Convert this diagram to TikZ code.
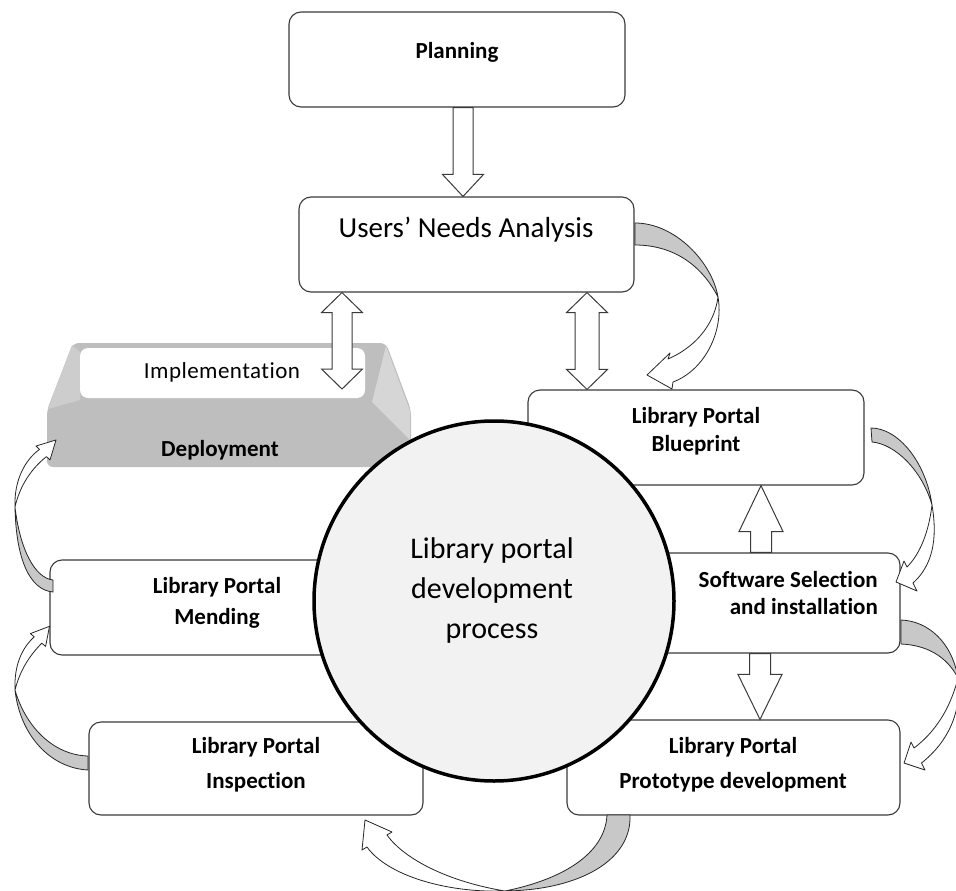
\documentclass[tikz,border=0pt]{standalone}
\usepackage{fontspec}
\setmainfont{Carlito}[Ligatures={NoCommon}]
\usetikzlibrary{calc}
\definecolor{linec}{HTML}{3A3A3A}
\definecolor{curvegray}{HTML}{C8C8C8}
\definecolor{circfill}{HTML}{F2F2F2}
\definecolor{depgray}{HTML}{BEBEBE}
\definecolor{deplight}{HTML}{CDCDCD}
\definecolor{depright}{HTML}{D6D6D6}
\begin{document}
\begin{tikzpicture}[x=1pt,y=-1pt,
  box/.style={draw=linec, line width=1.1pt, rounded corners=12pt, fill=white, inner sep=0pt},
  lbl/.style={font=\fontsize{23}{28}\bfseries\selectfont, align=center, inner sep=0pt},
  blk/.style={draw=linec, fill=white, line width=1pt, line join=miter},
  curv/.style={draw=black!85, line width=0.8pt, line join=round},
  bshaft/.store in=\bsw, bhead/.store in=\bhw, bhlen/.store in=\bhl, bx/.store in=\bx,
  bshaft=10pt, bhead=20.5pt, bhlen=22pt, bx=0pt,
  arrowdown/.style={to path={let \p1=(\tikztostart), \p2=(\tikztotarget) in
    (\bx-\bsw,\y1) -- (\bx-\bsw,\y2+\bhl) -- (\bx-\bhw,\y2+\bhl) -- (\bx,\y2)
    -- (\bx+\bhw,\y2+\bhl) -- (\bx+\bsw,\y2+\bhl) -- (\bx+\bsw,\y1) -- cycle}},
  arrowup/.style={to path={let \p1=(\tikztostart), \p2=(\tikztotarget) in
    (\bx-\bsw,\y1) -- (\bx-\bsw,\y2-\bhl) -- (\bx-\bhw,\y2-\bhl) -- (\bx,\y2)
    -- (\bx+\bhw,\y2-\bhl) -- (\bx+\bsw,\y2-\bhl) -- (\bx+\bsw,\y1) -- cycle}},
  arrowboth/.style={to path={let \p1=(\tikztostart), \p2=(\tikztotarget) in
    (\bx,\y1) -- (\bx-\bhw,\y1-\bhl) -- (\bx-\bsw,\y1-\bhl) -- (\bx-\bsw,\y2+\bhl)
    -- (\bx-\bhw,\y2+\bhl) -- (\bx,\y2) -- (\bx+\bhw,\y2+\bhl) -- (\bx+\bsw,\y2+\bhl)
    -- (\bx+\bsw,\y1-\bhl) -- (\bx+\bhw,\y1-\bhl) -- cycle}}
]
\useasboundingbox (0,0) rectangle (956,891);

% ---------- boxes ----------
\node[box, minimum width=336pt, minimum height=95pt] (plan) at (457,59.5) {};
\node[box, minimum width=335pt, minimum height=95pt] (users) at (466.5,244.5) {};
\node[box, minimum width=336pt, minimum height=95pt] (blue) at (696,437.5) {};
\node[box, minimum width=340pt, minimum height=100pt] (soft) at (730,603) {};
\node[box, minimum width=333pt, minimum height=95pt] (proto) at (733.5,767.5) {};
\node[box, minimum width=334pt, minimum height=93pt] (insp) at (256,768.5) {};
\node[box, minimum width=334pt, minimum height=95pt] (mend) at (217,607.5) {};

% ---------- deployment bevel ----------
\node[inner sep=0pt, minimum width=364pt, minimum height=124pt] (dep) at (229,405) {};
\fill[depgray, rounded corners=6pt] (47,410) -- (73,343) -- (386,343) -- (411,410) -- (411,467) -- (47,467) -- cycle;
\fill[deplight] (48,409) -- (72,345) -- (80,352) -- (80,400) -- cycle;
\fill[depright] (386,346) -- (410,411) -- (410,440) -- (372,402) -- cycle;
\fill[white, rounded corners=8pt] (80,348) rectangle (365,398);
\coordinate (depin) at (342,389);

% ---------- block arrows ----------
\draw[blk, arrowdown, bx=463pt] (plan.south) to (users.north);
\draw[blk, arrowboth, bx=342pt, bhlen=20pt] (users.south) to (depin);
\draw[blk, arrowboth, bx=587pt, bshaft=12pt, bhlen=20pt] (users.south) to (blue.north);
\draw[blk, arrowup, bx=761pt, bshaft=10.5pt, bhead=22pt, bhlen=46pt] (soft.north) to (blue.south);
\draw[blk, arrowdown, bx=760pt, bshaft=10.5pt, bhead=22pt, bhlen=45pt] (soft.south) to (proto.north);

% ---------- central circle ----------
\node[circle, draw=black, line width=3.5pt, fill=circfill, minimum size=360pt, inner sep=0pt] (proc) at (494,601) {};

% ---------- curved arrows ----------
% Users -> Blueprint
\filldraw[curv, fill=curvegray] (635,223) .. controls (675,223) and (712,262) .. (718,297) .. controls (700,262) and (670,245) .. (635,245) -- cycle;
\filldraw[curv, fill=white] (718,297) .. controls (724,331) and (705,370) .. (673,382) -- (672,389) -- (647,375) -- (670,353) -- (668,359) .. controls (700,345) and (715,320) .. (718,297) -- cycle;
% Blueprint -> Software
\filldraw[curv, fill=curvegray] (871,428) .. controls (898,428) and (926,462) .. (932,505) .. controls (922,470) and (895,444) .. (872,442) -- cycle;
\filldraw[curv, fill=white] (932,505) .. controls (938,540) and (932,566) .. (913,583) -- (917,591) -- (896,582) -- (904,561) -- (907,567) .. controls (921,553) and (929,530) .. (932,505) -- cycle;
% Software -> Prototype
\filldraw[curv, fill=curvegray] (901,620) .. controls (928,621) and (952,642) .. (958,678) .. controls (946,655) and (925,645) .. (901,644) -- cycle;
\filldraw[curv, fill=white] (958,678) .. controls (962,712) and (948,742) .. (921.5,763) -- (925,770) -- (904,763) -- (911,742) -- (914,748) .. controls (934,733) and (950,710) .. (958,678) -- cycle;
% Prototype -> Inspection
\filldraw[curv, fill=curvegray] (630,815) .. controls (632,860) and (580,890) .. (505,891) .. controls (560,880) and (605,855) .. (607,815) -- cycle;
\filldraw[curv, fill=white] (505,891) .. controls (445,893) and (387,875) .. (367,847) -- (362,850) -- (365,820) -- (392,832) -- (387,835) .. controls (405,860) and (450,882) .. (505,891) -- cycle;
% Inspection -> Mending
\filldraw[curv, fill=curvegray] (88,770) .. controls (50,768) and (20,735) .. (15,690) .. controls (25,725) and (52,755) .. (88,756) -- cycle;
\filldraw[curv, fill=white] (15,690) .. controls (14,665) and (22,648) .. (34.2,636.8) -- (30.4,633.6) -- (49.5,626.3) -- (45.6,646.4) -- (41.8,643.2) .. controls (30,655) and (20,670) .. (15,690) -- cycle;
% Mending -> Deployment
\filldraw[curv, fill=curvegray] (53,592) .. controls (30,590) and (16,560) .. (15,507) .. controls (20,550) and (35,578) .. (53,580) -- cycle;
\filldraw[curv, fill=white] (15,507) .. controls (14,480) and (25,460) .. (39.5,449.4) -- (36,446) -- (56,440) -- (50,460) -- (46.5,456.6) .. controls (32,468) and (20,485) .. (15,507) -- cycle;

% ---------- texts ----------
\node[lbl] (planT) at (457,52) {Planning};
\node[font=\fontsize{29}{34}\selectfont, inner sep=0pt] (usersT) at (466,230) {Users’ Needs Analysis};
\node[lbl, font=\fontsize{23}{28}\bfseries\selectfont] (blueT) at (696,431) {Library Portal\\Blueprint};
\node[lbl, align=right, anchor=east, font=\fontsize{23}{27}\bfseries\selectfont] (softT) at (878,593.5) {Software Selection\\and installation};
\node[lbl, font=\fontsize{23}{35}\bfseries\selectfont] (protoT) at (733,764.5) {Library Portal\\Prototype development};
\node[lbl, font=\fontsize{23}{35}\bfseries\selectfont] (inspT) at (256,764.5) {Library Portal\\Inspection};
\node[lbl, font=\fontsize{23}{31}\bfseries\selectfont] (mendT) at (217,602.5) {Library Portal\\Mending};
\node[font=\fontsize{23}{28}\selectfont\addfontfeatures{LetterSpace=2}, inner sep=0pt] (implT) at (222,372) {Implementation};
\node[lbl] (depT) at (220,450) {Deployment};
\node[font=\fontsize{30}{40}\selectfont, align=center, inner sep=0pt] (procT) at (492,590) {Library portal\\development\\process};
\end{tikzpicture}
\end{document}
